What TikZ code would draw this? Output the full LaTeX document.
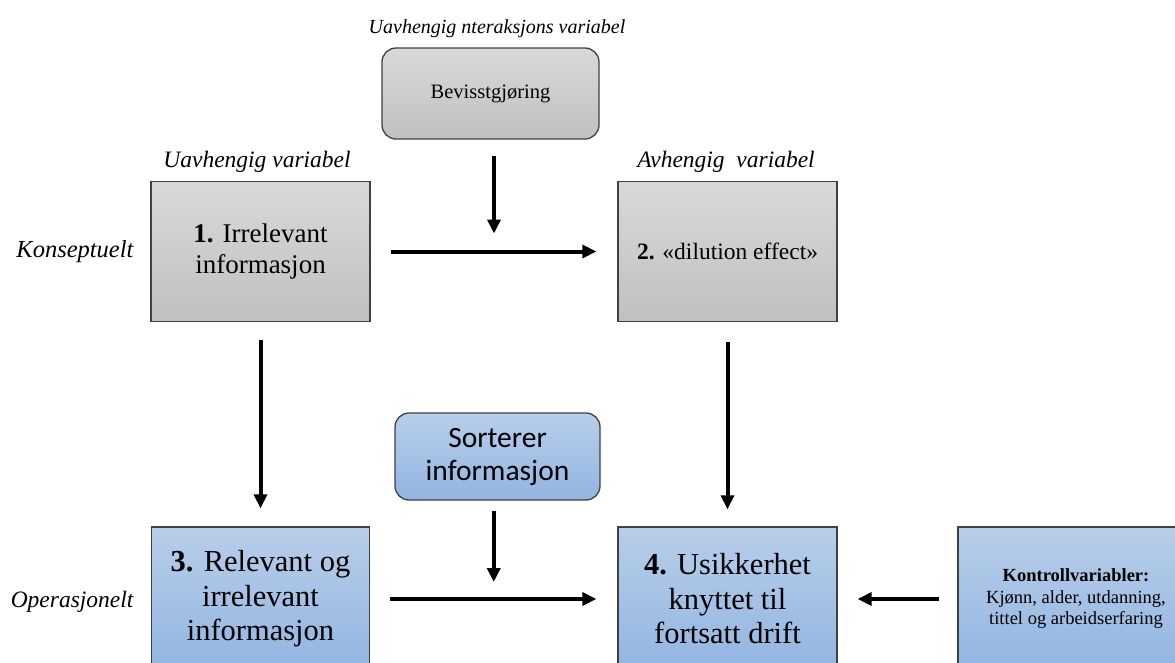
\documentclass[tikz,border=0pt]{standalone}
\usepackage{fontspec}
\setmainfont{Liberation Serif}
\newfontfamily\calibrifont{Carlito}
\usepackage{tikz}
\usetikzlibrary{shapes, arrows.meta, positioning}
\definecolor{greytop}{HTML}{D9D9D9}
\definecolor{greybot}{HTML}{C0C0C0}
\definecolor{bluetop}{HTML}{B8CEEA}
\definecolor{bluebot}{HTML}{92B5E1}
\definecolor{edge}{HTML}{404040}
\tikzstyle{greybox} = [draw=edge, line width=1.3pt, rectangle,
    top color=greytop, bottom color=greybot, align=center, inner sep=0pt]
\tikzstyle{bluebox} = [draw=edge, line width=1.3pt, rectangle,
    top color=bluetop, bottom color=bluebot, align=center, inner sep=0pt]
\tikzstyle{caption} = [font=\itshape\fontsize{23.5}{27}\selectfont]
\tikzstyle{link} = [->, line width=4pt]
\newcommand{\nr}[1]{\textbf{#1}}

\begin{document}
\begin{tikzpicture}[x=1pt, y=-1pt, >={Triangle[length=14pt,width=13pt]}]
    \useasboundingbox (0,0) rectangle (1175,662);
    \clip (0,0) rectangle (1175,662);
    \node [greybox, minimum width=219pt, minimum height=140pt,
        font=\fontsize{27}{31}\selectfont] (irrelevant) at (260.5,251.5) {\nr{1.} Irrelevant\\informasjon};
    \node [greybox, minimum width=219pt, minimum height=140pt,
        font=\fontsize{23.5}{27}\selectfont] (dilution) at (727.5,251.5) {\nr{2.} «dilution effect»};
    \node [greybox, rounded corners=14pt, minimum width=217pt, minimum height=91pt,
        font=\fontsize{20.5}{24}\selectfont] (bevisst) at (490.5,93.5) {Bevisstgjøring};
    \node [bluebox, rounded corners=14pt, minimum width=205pt, minimum height=87pt,
        font=\calibrifont\fontsize{29.5}{33}\selectfont] (sorterer) at (497.5,456.5) {Sorterer\\informasjon};
    \node [bluebox, minimum width=218pt, minimum height=144pt,
        font=\fontsize{30.5}{34.5}\selectfont] (relevant) at (260.5,599) {\nr{3.} Relevant og\\irrelevant\\informasjon};
    \node [bluebox, minimum width=219pt, minimum height=144pt,
        font=\fontsize{30.5}{34.5}\selectfont] (usikkerhet) at (727.5,599) {\nr{4.} Usikkerhet\\knyttet til\\fortsatt drift};
    \node [bluebox, minimum width=236pt, minimum height=144pt,
        font=\fontsize{18.5}{21.5}\selectfont] (kontroll) at (1076,599) {\nr{Kontrollvariabler:}\\Kjønn, alder, utdanning,\\tittel og arbeidserfaring};

    \node [caption, font=\itshape\fontsize{20}{24}\selectfont, anchor=base] (ivlabel) at (497,33) {Uavhengig nteraksjons variabel};
    \node [caption, anchor=base] (uvlabel) at (257,167) {Uavhengig variabel};
    \node [caption, anchor=base] (avlabel) at (726,167) {Avhengig\ \ variabel};
    \node [caption, font=\itshape\fontsize{24.5}{28}\selectfont, anchor=base east] (konsept) at (137,257) {Konseptuelt};
    \node [caption, anchor=base east] (operasjon) at (137,607) {Operasjonelt};

    \draw [link, shorten <=20pt, shorten >=21pt] (irrelevant) -- (dilution) coordinate [midway] (topmid);
    \draw [link, shorten <=16pt, shorten >=18pt] (bevisst.south -| topmid) -- (topmid);
    \draw [link, shorten <=20pt, shorten >=21pt] (relevant) -- (usikkerhet) coordinate [midway] (lowmid);
    \draw [link, shorten <=10pt, shorten >=17pt] (sorterer.south -| lowmid) -- (lowmid);
    \draw [link, shorten <=18pt, shorten >=18pt] (irrelevant) -- (relevant);
    \draw [link, shorten <=20pt, shorten >=17pt] (dilution) -- (usikkerhet);
    \draw [link, shorten <=18pt, shorten >=20pt] (kontroll) -- (usikkerhet);
\end{tikzpicture}
\end{document}
